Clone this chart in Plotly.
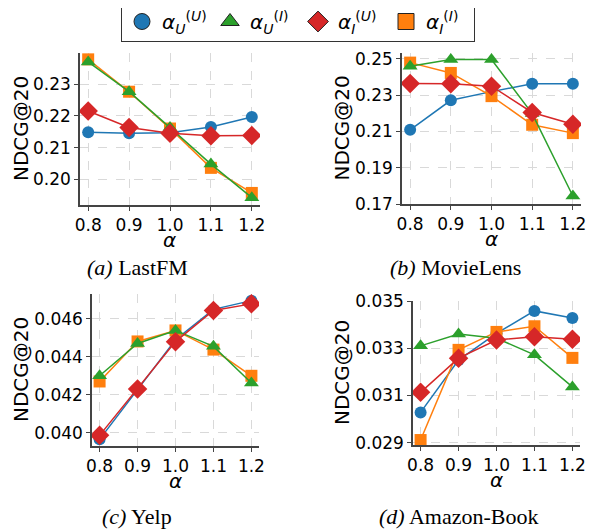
import plotly.graph_objects as go

# The page body has an 8px margin at the top-left; positions below are window pixels.
OFF = 8
W, H = 596 - OFF, 531 - OFF

alphas = [0.8, 0.9, 1.0, 1.1, 1.2]
x_ticks = [0.8, 0.9, 1.0, 1.1, 1.2]
x_ticktext = ["0.8", "0.9", "1.0", "1.1", "1.2"]

# LastFM
lastfm_UU = [0.2148, 0.2145, 0.2147, 0.2165, 0.2196]
lastfm_UI = [0.2370, 0.2276, 0.2163, 0.2048, 0.1942]
lastfm_IU = [0.2215, 0.2163, 0.2145, 0.2137, 0.2138]
lastfm_II = [0.2378, 0.2276, 0.2160, 0.2036, 0.1957]
lastfm_yticks = [0.20, 0.21, 0.22, 0.23]

# MovieLens
ml_UU = [0.2109, 0.2272, 0.2320, 0.2363, 0.2363]
ml_UI = [0.2460, 0.2497, 0.2497, 0.2199, 0.1744]
ml_IU = [0.2365, 0.2363, 0.2350, 0.2205, 0.2140]
ml_II = [0.2480, 0.2423, 0.2295, 0.2137, 0.2091]
ml_yticks = [0.17, 0.19, 0.21, 0.23, 0.25]

# Yelp
yelp_UU = [0.03965, 0.04230, 0.04490, 0.04650, 0.04696]
yelp_UI = [0.04300, 0.04470, 0.04539, 0.04455, 0.04262]
yelp_IU = [0.03986, 0.04230, 0.04480, 0.04644, 0.04679]
yelp_II = [0.04270, 0.04481, 0.04539, 0.04438, 0.04300]
yelp_yticks = [0.040, 0.042, 0.044, 0.046]

# Amazon-Book
ab_UU = [0.03028, 0.03250, 0.03363, 0.03458, 0.03428]
ab_UI = [0.03310, 0.03360, 0.03342, 0.03272, 0.03136]
ab_IU = [0.03113, 0.03258, 0.03335, 0.03349, 0.03338]
ab_II = [0.02911, 0.03293, 0.03369, 0.03393, 0.03259]
ab_yticks = [0.029, 0.031, 0.033, 0.035]

series_names = ["<i>α</i><sub><i>U</i></sub><sup>(<i>U</i>)</sup>",
                "<i>α</i><sub><i>U</i></sub><sup>(<i>I</i>)</sup>",
                "<i>α</i><sub><i>I</i></sub><sup>(<i>U</i>)</sup>",
                "<i>α</i><sub><i>I</i></sub><sup>(<i>I</i>)</sup>"]
colors = {"UU": "#1f77b4", "UI": "#2ca02c", "IU": "#d62728", "II": "#ff7f0e"}
symbols = {"UU": "circle", "UI": "triangle-up", "IU": "diamond", "II": "square"}
sizes = {"UU": 12, "UI": 13, "IU": 15, "II": 12}

panels = [
    dict(name="(a)", title="LastFM", data=dict(UU=lastfm_UU, UI=lastfm_UI, IU=lastfm_IU, II=lastfm_II),
         yticks=lastfm_yticks, fmt="{:.2f}", px=(80, 260), py=(53, 205), yr=(0.1919, 0.2398),
         cap=(137, 267), ylab_x=21),
    dict(name="(b)", title="MovieLens", data=dict(UU=ml_UU, UI=ml_UI, IU=ml_IU, II=ml_II),
         yticks=ml_yticks, fmt="{:.2f}", px=(402, 581), py=(53, 204), yr=(0.17, 0.2533),
         cap=(455, 267), ylab_x=342),
    dict(name="(c)", title="Yelp", data=dict(UU=yelp_UU, UI=yelp_UI, IU=yelp_IU, II=yelp_II),
         yticks=yelp_yticks, fmt="{:.3f}", px=(92, 259), py=(294, 446), yr=(0.0393, 0.04731),
         cap=(137, 516), ylab_x=21),
    dict(name="(d)", title="Amazon-Book", data=dict(UU=ab_UU, UI=ab_UI, IU=ab_IU, II=ab_II),
         yticks=ab_yticks, fmt="{:.3f}", px=(413, 580), py=(301, 445), yr=(0.0289, 0.0350),
         cap=(458, 516), ylab_x=342),
]


def fx(X):
    return (X - OFF) / W


def fy(Y):
    return 1 - (Y - OFF) / H


fig = go.Figure()
draw_order = ["UU", "II", "UI", "IU"]
annotations = []
layout_axes = {}
for i, p in enumerate(panels):
    k = "" if i == 0 else str(i + 1)
    xa, ya = "x" + k, "y" + k
    for key in draw_order:
        fig.add_trace(go.Scatter(
            x=alphas, y=p["data"][key], xaxis=xa, yaxis=ya, mode="lines+markers",
            line=dict(color=colors[key], width=1.5),
            marker=dict(symbol=symbols[key], size=sizes[key], color=colors[key],
                        line=dict(width=0)),
            showlegend=False, hoverinfo="skip"))
    xdom = [fx(p["px"][0]), fx(p["px"][1])]
    ydom = [fy(p["py"][1]), fy(p["py"][0])]
    common = dict(showline=True, linecolor="#444", linewidth=1.5, ticks="outside",
                  ticklen=4, tickcolor="#444", showgrid=True, gridcolor="#d9d9d9",
                  griddash="dash", gridwidth=0.8, zeroline=False,
                  tickfont=dict(family="DejaVu Sans", size=17, color="black"))
    layout_axes["xaxis" + k] = dict(domain=xdom, range=[0.78, 1.22], tickvals=x_ticks,
                                    ticktext=x_ticktext, anchor=ya, **common)
    layout_axes["yaxis" + k] = dict(domain=ydom, range=list(p["yr"]), tickvals=p["yticks"],
                                    ticktext=[p["fmt"].format(v) for v in p["yticks"]],
                                    anchor=xa, **common)
    xc = (p["px"][0] + p["px"][1]) / 2
    annotations.append(dict(x=fx(xc), y=fy(p["py"][1] + 35), xref="paper", yref="paper",
                            xanchor="center", yanchor="middle",
                            text="<i>α</i>", showarrow=False,
                            font=dict(family="DejaVu Sans", size=20, color="black")))
    annotations.append(dict(x=fx(p["ylab_x"]), y=fy((p["py"][0] + p["py"][1]) / 2),
                            xref="paper", yref="paper", text="NDCG@20", textangle=-90,
                            xanchor="center", yanchor="middle", showarrow=False,
                            font=dict(family="DejaVu Sans", size=20, color="black")))
    annotations.append(dict(x=fx(p["cap"][0]), y=fy(p["cap"][1]), xref="paper", yref="paper",
                            xanchor="center", yanchor="middle",
                            text="<i>" + p["name"] + "</i> " + p["title"], showarrow=False,
                            font=dict(family="Liberation Serif", size=22, color="black")))

# legend entries
for key, nm in zip(["UU", "UI", "IU", "II"], series_names):
    fig.add_trace(go.Scatter(
        x=[None], y=[None], mode="markers", name=nm,
        marker=dict(symbol=symbols[key], size=16, color=colors[key],
                    line=dict(width=1, color="#222")),
        showlegend=True))

fig.update_layout(
    width=W, height=H, margin=dict(l=0, r=0, t=0, b=0, autoexpand=False),
    plot_bgcolor="white", paper_bgcolor="white",
    annotations=annotations,
    legend=dict(orientation="h", x=fx(298), xanchor="center", y=fy(1), yanchor="top",
                bordercolor="#333", borderwidth=1, bgcolor="white",
                font=dict(family="DejaVu Sans", size=20, color="black"),
                itemwidth=30, tracegroupgap=0, entrywidth=43),
    **layout_axes)

fig.write_html("out.html")
